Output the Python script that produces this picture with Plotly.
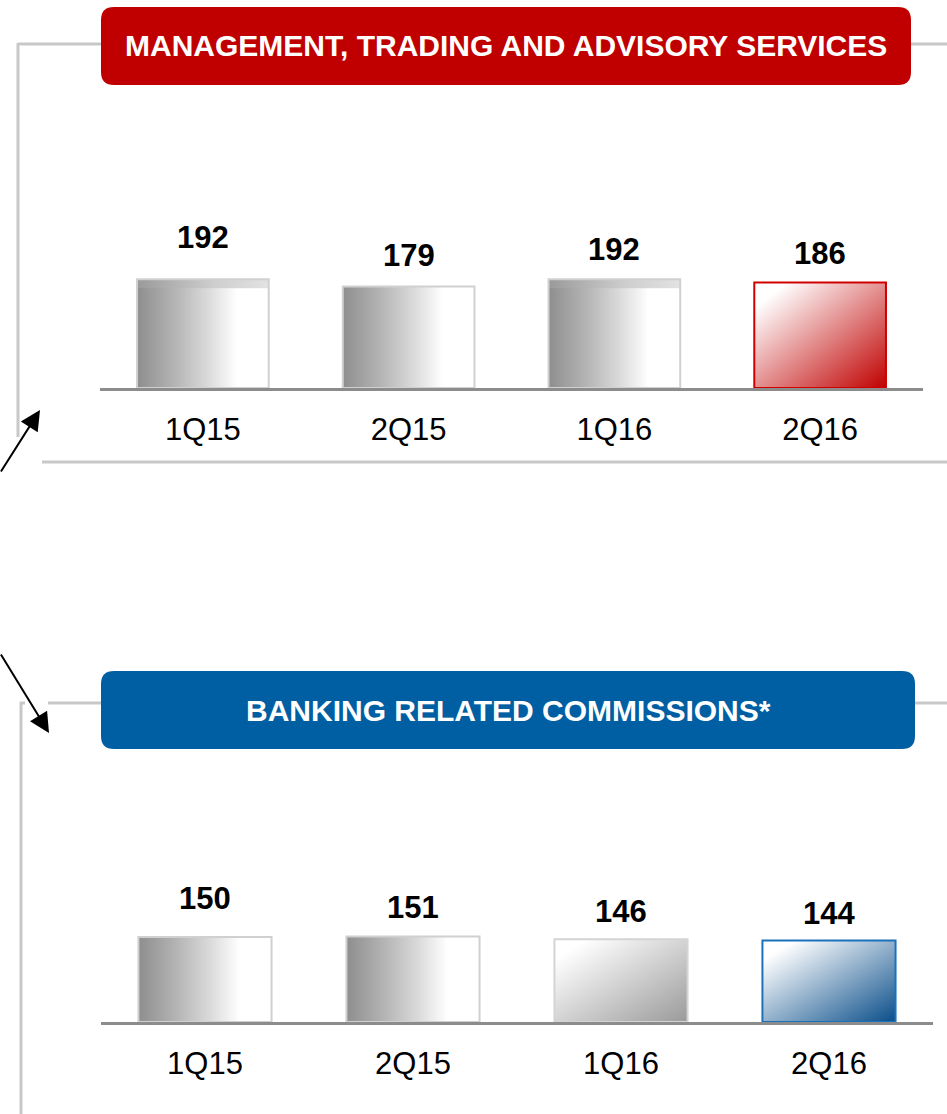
import base64
import plotly.graph_objects as go

# ---------------- data ----------------
categories = ["1Q15", "2Q15", "1Q16", "2Q16"]
mgmt_values = [192, 179, 192, 186]
banking_values = [150, 151, 146, 144]
panel_titles = ["MANAGEMENT, TRADING AND ADVISORY SERVICES", "BANKING RELATED COMMISSIONS*"]

# ---------------- style ----------------
W, H = 947, 1114
FONT = "Arial, Liberation Sans, sans-serif"
RED = "#C00000"
BLUE = "#005FA3"
GRID_GRAY = "#C8C8C8"
AXIS_GRAY = "#8C8C8C"
BAR_W = 0.64
Y_MAX = 300
PLOT_PX = 170  # pixel height of y domain

# per-bar fill styles: ("h", None) horizontal gray, ("d", color) diagonal
mgmt_styles = [("h", None), ("h", None), ("h", None), ("d", RED)]
bank_styles = [("h", None), ("h", None), ("d", "#9A9A9A"), ("d", "#0A4E8A")]
mgmt_borders = ["#D0D0D0", "#D0D0D0", "#D0D0D0", "#D00000"]
bank_borders = ["#D0D0D0", "#D0D0D0", "#D4D4D4", "#1C72BA"]
mgmt_caps = [9, 0, 9, 0]
bank_caps = [0, 0, 0, 0]
mgmt_label_shift = [42, 31, 30, 29]
bank_label_shift = [39, 29, 28, 27]


def fx(px):
    return px / W


def fy(py):
    return 1 - py / H


def grad_svg(kind, color, cap_frac):
    if kind == "h":
        grad = ('<linearGradient id="g" x1="0" y1="0" x2="1" y2="0">'
                '<stop offset="0" stop-color="#8E8E8E"/>'
                '<stop offset="0.3" stop-color="#B6B6B6"/>'
                '<stop offset="0.55" stop-color="#DCDCDC"/>'
                '<stop offset="0.76" stop-color="#FFFFFF"/>'
                '<stop offset="1" stop-color="#FFFFFF"/>'
                '</linearGradient>'
                '<linearGradient id="c" x1="0" y1="0" x2="1" y2="0">'
                '<stop offset="0" stop-color="#9A9A9A"/>'
                '<stop offset="0.6" stop-color="#CFCFCF"/>'
                '<stop offset="1" stop-color="#E2E2E2"/>'
                '</linearGradient>')
    else:
        grad = ('<linearGradient id="g" x1="0" y1="0" x2="1" y2="1">'
                '<stop offset="0.12" stop-color="#FFFFFF"/>'
                f'<stop offset="1" stop-color="{color}"/>'
                '</linearGradient>')
    body = '<rect x="0" y="0" width="100" height="100" fill="url(#g)"/>'
    if cap_frac > 0:
        body += f'<rect x="0" y="0" width="100" height="{100 * cap_frac:.3f}" fill="url(#c)"/>'
    svg = ('<svg xmlns="http://www.w3.org/2000/svg" width="100" height="100" '
           'viewBox="0 0 100 100" preserveAspectRatio="none">'
           f'<defs>{grad}</defs>{body}</svg>')
    return "data:image/svg+xml;base64," + base64.b64encode(svg.encode()).decode()


def rounded_rect(x0, y0, x1, y1, r):
    pts = [
        f"M {fx(x0 + r)} {fy(y0)}",
        f"L {fx(x1 - r)} {fy(y0)}",
        f"Q {fx(x1)} {fy(y0)} {fx(x1)} {fy(y0 + r)}",
        f"L {fx(x1)} {fy(y1 - r)}",
        f"Q {fx(x1)} {fy(y1)} {fx(x1 - r)} {fy(y1)}",
        f"L {fx(x0 + r)} {fy(y1)}",
        f"Q {fx(x0)} {fy(y1)} {fx(x0)} {fy(y1 - r)}",
        f"L {fx(x0)} {fy(y0 + r)}",
        f"Q {fx(x0)} {fy(y0)} {fx(x0 + r)} {fy(y0)}",
        "Z",
    ]
    return " ".join(pts)


fig = go.Figure()
idx = list(range(len(categories)))

images = []
annotations = []
panels = [
    (mgmt_values, mgmt_styles, mgmt_borders, mgmt_caps, mgmt_label_shift, "x", "y"),
    (banking_values, bank_styles, bank_borders, bank_caps, bank_label_shift, "x2", "y2"),
]
for vals, styles, borders, caps, shifts, xa, ya in panels:
    fig.add_trace(go.Bar(
        x=idx, y=vals, width=BAR_W, xaxis=xa, yaxis=ya,
        marker=dict(color="rgba(0,0,0,0)", line=dict(color=borders, width=2)),
        showlegend=False, hoverinfo="skip",
    ))
    for i, v in enumerate(vals):
        kind, col = styles[i]
        cap_frac = caps[i] / (v * PLOT_PX / Y_MAX)
        images.append(dict(
            source=grad_svg(kind, col, cap_frac), xref=xa, yref=ya,
            x=i - BAR_W / 2, y=v, sizex=BAR_W, sizey=v,
            xanchor="left", yanchor="top", sizing="stretch", layer="below",
        ))
        annotations.append(dict(
            x=i, y=v, xref=xa, yref=ya, text=f"<b>{v}</b>", showarrow=False,
            yanchor="middle", yshift=shifts[i],
            font=dict(family=FONT, size=31, color="black"),
        ))

# panel titles
annotations.append(dict(x=fx(506), y=fy(46), xref="paper", yref="paper",
                        xanchor="center", yanchor="middle",
                        text=f"<b>{panel_titles[0]}</b>", showarrow=False,
                        font=dict(family=FONT, size=30, color="white")))
annotations.append(dict(x=fx(508), y=fy(710), xref="paper", yref="paper",
                        xanchor="center", yanchor="middle",
                        text=f"<b>{panel_titles[1]}</b>", showarrow=False,
                        font=dict(family=FONT, size=30, color="white")))

# arrows
annotations.append(dict(x=fx(40), y=fy(410), xref="paper", yref="paper", text="",
                        showarrow=True, ax=-44, ay=63, arrowhead=2, arrowsize=2.0,
                        arrowwidth=2, arrowcolor="black"))
annotations.append(dict(x=fx(49), y=fy(733), xref="paper", yref="paper", text="",
                        showarrow=True, ax=-54, ay=-80, arrowhead=2, arrowsize=2.0,
                        arrowwidth=2, arrowcolor="black"))

line_style = dict(color=GRID_GRAY, width=3)
shapes = [
    # top bracket
    dict(type="line", xref="paper", yref="paper", x0=fx(18), y0=fy(44), x1=fx(101), y1=fy(44), line=line_style),
    dict(type="line", xref="paper", yref="paper", x0=fx(911), y0=fy(44), x1=fx(947), y1=fy(44), line=line_style),
    dict(type="line", xref="paper", yref="paper", x0=fx(18), y0=fy(43), x1=fx(18), y1=fy(437), line=line_style),
    dict(type="line", xref="paper", yref="paper", x0=fx(42), y0=fy(462), x1=fx(947), y1=fy(462), line=line_style),
    # bottom bracket
    dict(type="line", xref="paper", yref="paper", x0=fx(48), y0=fy(703), x1=fx(101), y1=fy(703), line=line_style),
    dict(type="line", xref="paper", yref="paper", x0=fx(915), y0=fy(703), x1=fx(947), y1=fy(703), line=line_style),
    dict(type="line", xref="paper", yref="paper", x0=fx(21), y0=fy(702), x1=fx(21), y1=fy(1114), line=line_style),
    dict(type="line", xref="paper", yref="paper", x0=fx(20), y0=fy(703), x1=fx(25), y1=fy(703), line=line_style),
    # title boxes
    dict(type="path", xref="paper", yref="paper", path=rounded_rect(101, 7, 911, 85, 13),
         fillcolor=RED, line=dict(width=0)),
    dict(type="path", xref="paper", yref="paper", path=rounded_rect(101, 671, 915, 749, 13),
         fillcolor=BLUE, line=dict(width=0)),
]

xaxis_common = dict(
    range=[-0.5, 3.5], tickvals=idx, ticktext=categories, showline=True,
    linecolor=AXIS_GRAY, linewidth=3, showgrid=False, zeroline=False,
    ticks="outside", ticklen=0, ticklabelstandoff=12,
    tickfont=dict(family=FONT, size=31, color="black"), fixedrange=True,
)
yaxis_common = dict(range=[0, Y_MAX], visible=False, showgrid=False, zeroline=False, fixedrange=True)

fig.update_layout(
    width=W, height=H, margin=dict(l=0, r=0, t=0, b=0),
    paper_bgcolor="white", plot_bgcolor="rgba(0,0,0,0)",
    xaxis=dict(domain=[fx(100), fx(923)], anchor="y", **xaxis_common),
    yaxis=dict(domain=[fy(388), fy(218)], anchor="x", **yaxis_common),
    xaxis2=dict(domain=[fx(101), fx(933)], anchor="y2", **xaxis_common),
    yaxis2=dict(domain=[fy(1022), fy(852)], anchor="x2", **yaxis_common),
    images=images, annotations=annotations, shapes=shapes,
    barmode="overlay", showlegend=False,
)

fig.write_html("out.html", config={"displayModeBar": False},
               post_script="document.body.style.margin='0px';")
